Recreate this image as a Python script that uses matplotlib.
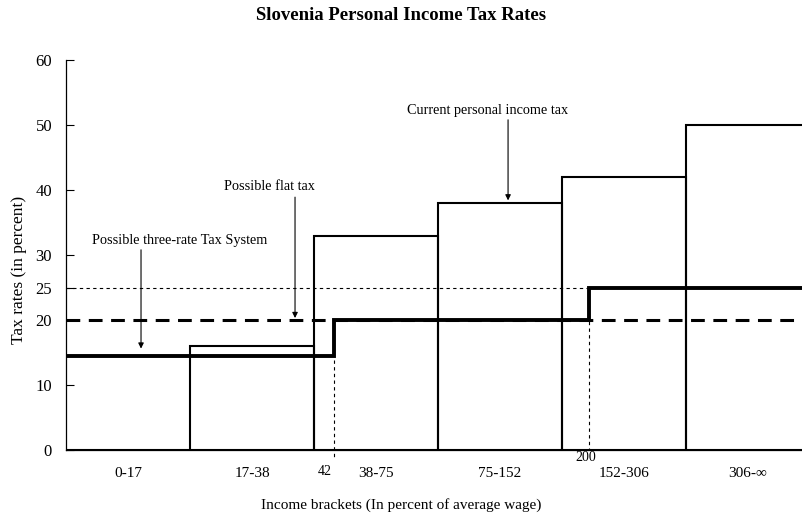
import matplotlib
matplotlib.use('Agg')
import matplotlib.pyplot as plt

# brackets of income (percent of average wage) and current rates
brackets = ['0-17', '17-38', '38-75', '75-152', '152-306', '306-\u221e']
current_rates = [0, 16, 33, 38, 42, 50]

# flat tax proposal
flat_rate = 20

# three-rate proposal: breakpoints in bracket-position units (42% and 200% of wage)
three_rate_breaks = [-0.5, 1.66, 3.72, 6.0]
three_rate_values = [14.5, 20, 25]
break_labels = ['42', '200']

y_ticks = [0, 10, 20, 25, 30, 40, 50, 60]

plt.rcParams['font.family'] = ['Liberation Serif', 'DejaVu Serif']

fig = plt.figure(figsize=(8.02, 5.13), dpi=100)
ax = fig.add_axes([66 / 802, 1 - 450 / 513, (802 - 66) / 802, (450 - 60) / 513])

pos = list(range(len(brackets)))

# dotted reference lines at 25 and at the two breakpoints
ax.plot([-0.5, three_rate_breaks[2]], [25, 25], color='black', lw=0.8,
        ls=(0, (3, 3)), zorder=1)
ax.plot([three_rate_breaks[1]] * 2, [three_rate_values[1], -1.3], color='black',
        lw=0.8, ls=(0, (3, 3)), zorder=1, clip_on=False)
ax.plot([three_rate_breaks[2]] * 2, [three_rate_values[2], 0], color='black',
        lw=0.8, ls=(0, (3, 3)), zorder=1)

# current tax: outlined bars
ax.bar(pos, current_rates, width=1.0, fill=False, edgecolor='black',
       linewidth=1.5, zorder=2)

# flat tax dashed line
ax.axhline(flat_rate, color='black', lw=2.2, ls=(0, (4.5, 2.8)), zorder=3)

# three-rate step line
xs, ys = [], []
for i, v in enumerate(three_rate_values):
    xs += [three_rate_breaks[i], three_rate_breaks[i + 1]]
    ys += [v, v]
ax.plot(xs, ys, color='black', lw=2.8, zorder=4, solid_joinstyle='miter')

# labels at breakpoints
ax.text(three_rate_breaks[1] - 0.075, -3.35, break_labels[0], ha='center',
        va='center', fontsize=10)
ax.text(three_rate_breaks[2] - 0.025, -1.2, break_labels[1], ha='center',
        va='center', fontsize=10)

# annotations: text and arrow drawn separately
arrow = dict(arrowstyle='-|>', color='black', lw=0.8, mutation_scale=8,
             shrinkA=0, shrinkB=0)
notes = [
    ('Possible three-rate Tax System', 0.42, 32.2, 0.105, 30.8, 15.6),
    ('Possible flat tax', 1.14, 40.6, 1.347, 38.9, 20.3),
    ('Current personal income tax', 2.90, 52.3, 3.065, 50.8, 38.4),
]
for label, tx, ty, ax_x, y0, y1 in notes:
    ax.text(tx, ty, label, ha='center', va='center', fontsize=10.3)
    ax.annotate('', xy=(ax_x, y1), xytext=(ax_x, y0), arrowprops=arrow)

ax.set_xlim(-0.5, -0.5 + (802 - 66) / 124)
ax.set_ylim(0, 60)
ax.set_yticks(y_ticks)
ax.set_xticks(pos)
ax.set_xticklabels(brackets)
ax.tick_params(axis='y', direction='in', length=6, width=0.8, labelsize=12, pad=10)
ax.tick_params(axis='x', length=0, labelsize=11, pad=12)
ax.spines['top'].set_visible(False)
ax.spines['right'].set_visible(False)
ax.spines['left'].set_linewidth(0.9)
ax.spines['bottom'].set_linewidth(0.9)

fig.text(401 / 802, 1 - 505 / 513, 'Income brackets (In percent of average wage)',
         ha='center', va='center', fontsize=11)
fig.text(19 / 802, 1 - 270 / 513, 'Tax rates (in percent)', rotation=90,
         ha='center', va='center', fontsize=12.5)
fig.suptitle('Slovenia Personal Income Tax Rates', fontsize=13.5,
             fontweight='bold', y=1 - 16 / 513, va='center')

fig.savefig('out.png', dpi=100)
